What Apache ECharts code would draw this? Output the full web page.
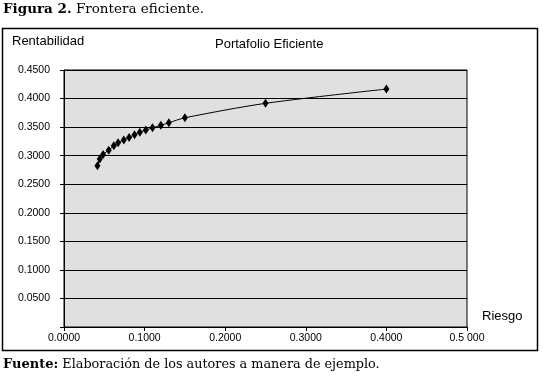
<!DOCTYPE html>
<html><head><meta charset="utf-8">
<script src="https://cdn.jsdelivr.net/npm/echarts@6/dist/echarts.min.js"></script>
<style>html,body{margin:0;padding:0;background:#fff}#c{width:543px;height:378px}</style>
</head><body><div id="c"></div>
<script>
const riesgo = [0.0415,0.0444,0.0485,0.0555,0.0618,0.0671,0.0742,0.0808,0.0875,0.0941,0.1015,0.1098,0.1202,0.1301,0.150,0.250,0.400];
const rentabilidad = [0.2822,0.2940,0.3022,0.3097,0.3173,0.3225,0.3273,0.3320,0.3366,0.3408,0.3448,0.3489,0.3531,0.3576,0.3663,0.3916,0.4166];
const xTickLabels = ['0.0000','0.1000','0.2000','0.3000','0.4000','0.5 000'];
const yTickLabels = ['','0.0500','0.1000','0.1500','0.2000','0.2500','0.3000','0.3500','0.4000','0.4500'];

const chart = echarts.init(document.getElementById('c'), null, {renderer:'canvas'});
const sans = 'Liberation Sans, Arial, sans-serif';
const serif = 'DejaVu Serif, serif';
chart.setOption({
  animation:false,
  backgroundColor:'#fff',
  grid:{left:64,right:76,top:70,bottom:51,show:true,backgroundColor:'#e0e0e0',borderColor:'#000',borderWidth:1},
  xAxis:{type:'value',min:0,max:0.5,interval:0.1,
    axisLine:{show:true,lineStyle:{color:'#000',width:1}},
    axisTick:{show:true,length:4,lineStyle:{color:'#000'}},
    splitLine:{show:false},
    axisLabel:{color:'#000',fontFamily:sans,fontSize:10.5,margin:6,
      formatter:(v)=>xTickLabels[Math.round(v/0.1)]}},
  yAxis:{type:'value',min:0,max:0.45,interval:0.05,
    axisLine:{show:true,lineStyle:{color:'#000',width:1}},
    axisTick:{show:true,length:4,lineStyle:{color:'#000'}},
    splitLine:{show:true,lineStyle:{color:'#000',width:1}},
    axisLabel:{color:'#000',fontFamily:sans,fontSize:10.5,margin:14,
      formatter:(v)=>yTickLabels[Math.round(v/0.05)]}},
  series:[{type:'line',smooth:0.3,
    data:riesgo.map((x,i)=>[x,rentabilidad[i]]),
    symbol:'diamond',symbolSize:[6,9],
    itemStyle:{color:'#000'},
    lineStyle:{color:'#000',width:1}}],
  graphic:[
    {type:'rect',shape:{x:2.5,y:28.5,width:535,height:322},style:{fill:null,stroke:'#000',lineWidth:1.5},silent:true},
    {type:'text',left:3,top:2,style:{rich:{b:{fontFamily:serif,fontWeight:'bold',fontSize:13.5,fill:'#000'},n:{fontFamily:serif,fontSize:13.5,fill:'#000'}},text:'{b|Figura 2.}{n| Frontera eficiente.}'}},
    {type:'text',left:12,top:35,style:{text:'Rentabilidad',fontFamily:sans,fontSize:13,fill:'#000'}},
    {type:'text',left:215,top:38,style:{text:'Portafolio Eficiente',fontFamily:sans,fontSize:13,fill:'#000'}},
    {type:'text',left:482,top:310,style:{text:'Riesgo',fontFamily:sans,fontSize:13,fill:'#000'}},
    {type:'text',left:3,top:358,style:{rich:{b:{fontFamily:serif,fontWeight:'bold',fontSize:13,fill:'#000'},n:{fontFamily:serif,fontSize:12.8,fill:'#000'}},text:'{b|Fuente:}{n| Elaboración de los autores a manera de ejemplo.}'}}
  ]
});
</script></body></html>
